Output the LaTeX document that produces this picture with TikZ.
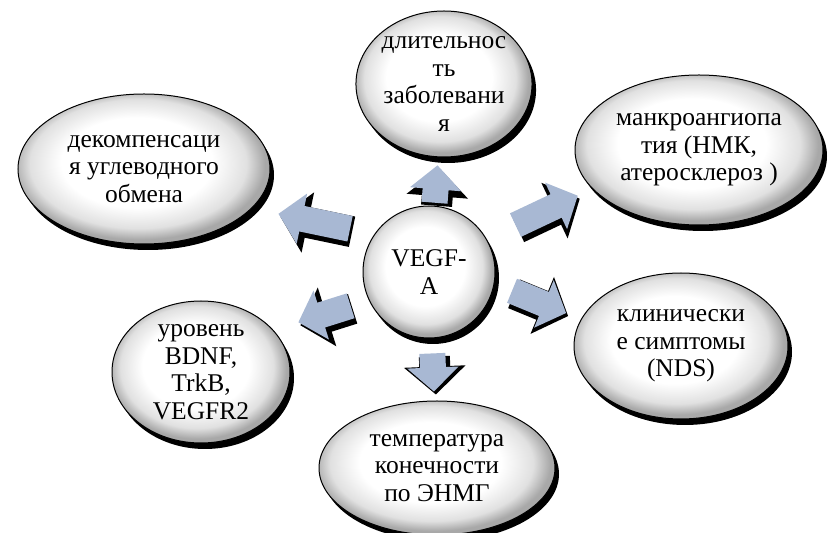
\documentclass[tikz,border=0pt]{standalone}
\usepackage{fontspec}
\setmainfont{Liberation Serif}
\usetikzlibrary{shapes.geometric,shadows,arrows.meta}

\definecolor{arrowblue}{RGB}{168,184,211}
\pgfdeclareradialshading{glossy}{\pgfpoint{-2bp}{3bp}}{color(0bp)=(white); color(15bp)=(white); color(21.5bp)=(black!12); color(25bp)=(black!34); color(50bp)=(black!34)}

\tikzset{
  bubble/.style={ellipse, draw=black, line width=1pt, shade, shading=glossy, align=center,
    inner sep=0pt, font=\fontsize{25.5}{27.5}\selectfont,
    drop shadow={fill=black, opacity=1, shadow xshift=4pt, shadow yshift=-6pt}},
  blockarrow/.style={line width=26pt, draw=arrowblue, -{Triangle[width=50pt,length=24pt]},
    preaction={draw=black, line width=31pt, -{Triangle[width=60pt,length=28pt]},
      transform canvas={shift={(2pt,-3pt)}}}}
}

\begin{document}
\begin{tikzpicture}[x=1pt,y=1pt]
  \useasboundingbox (0,0) rectangle (828,533);

  \node[bubble, circle, minimum size=132pt] (vegf) at (429,261) {VEGF-\\A};

  \node[bubble, minimum width=176pt, minimum height=146pt] (dur) at (444,449) {длительнос\\ть\\заболевани\\я};
  \node[bubble, minimum width=252pt, minimum height=150pt] (decomp) at (144,364) {декомпенсаци\\я углеводного\\обмена};
  \node[bubble, minimum width=248pt, minimum height=150pt] (manc) at (699,383) {манкроангиопа\\тия (НМК,\\атеросклероз )};
  \node[bubble, minimum width=214pt, minimum height=146pt] (clin) at (681,187) {клинически\\е симптомы\\(NDS)};
  \node[bubble, minimum width=178pt, minimum height=142pt] (level) at (201,161) {уровень\\BDNF,\\TrkB,\\VEGFR2};
  \node[bubble, minimum width=236pt, minimum height=134pt] (temp) at (437,65) {температура\\конечности\\по ЭНМГ};

  \draw[blockarrow, shorten <=3pt, shorten >=8pt] (vegf) -- (dur);
  \draw[blockarrow, shorten <=25pt, shorten >=27pt] (vegf.145) -- (decomp.-20);
  \draw[blockarrow, shorten <=32pt, shorten >=16pt] (vegf.30) -- (manc.200);
  \draw[blockarrow, shorten <=19pt, shorten >=16pt] (vegf.-10) -- (clin.165);
  \draw[blockarrow, shorten <=19pt, shorten >=26pt] (vegf.205) -- (level.30);
  \draw[blockarrow, shorten <=15pt, shorten >=9pt] (vegf) -- (temp);
\end{tikzpicture}
\end{document}
